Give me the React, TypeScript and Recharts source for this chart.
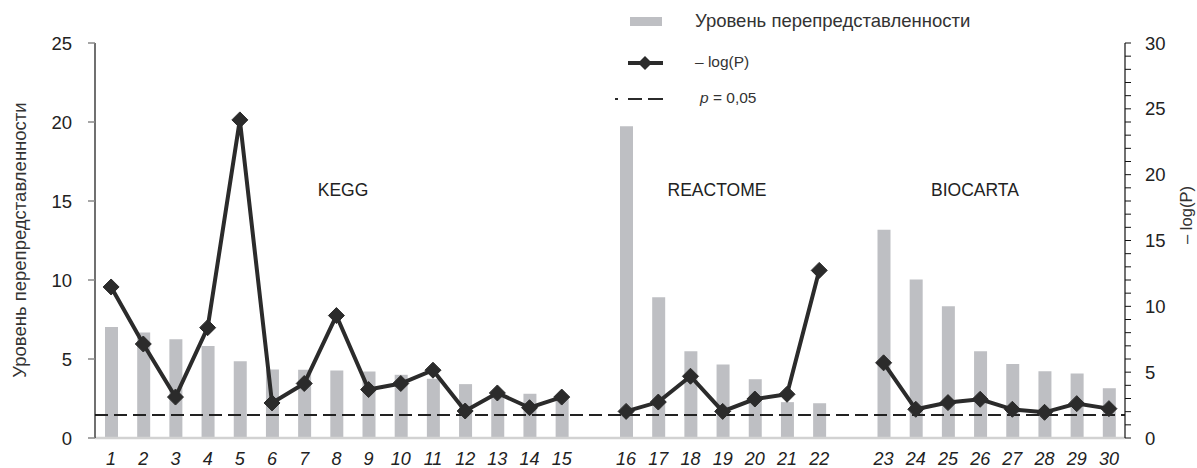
import React from "react";
import {
  Bar,
  ComposedChart,
  Line,
  ReferenceLine,
  XAxis,
  YAxis,
} from "recharts";

// categories 1..30, with two empty slots separating KEGG / REACTOME / BIOCARTA
const categories = [
  "1", "2", "3", "4", "5", "6", "7", "8", "9", "10", "11", "12", "13", "14", "15",
  "",
  "16", "17", "18", "19", "20", "21", "22",
  " ",
  "23", "24", "25", "26", "27", "28", "29", "30",
];

// уровень перепредставленности (left axis)
const enrichment = [
  7.03, 6.68, 6.25, 5.83, 4.86, 4.34, 4.32, 4.27, 4.21, 4.0, 3.75, 3.41, 2.95, 2.8, 2.48,
  null,
  19.73, 8.91, 5.49, 4.65, 3.72, 2.27, 2.2,
  null,
  13.18, 10.03, 8.34, 5.49, 4.69, 4.23, 4.08, 3.15,
];

// -log(P) (right axis)
const negLogP = [
  11.47, 7.14, 3.11, 8.38, 24.16, 2.66, 4.14, 9.3, 3.68, 4.14, 5.15, 2.05, 3.42, 2.3, 3.11,
  null,
  2.02, 2.73, 4.69, 2.02, 2.96, 3.32, 12.73,
  null,
  5.71, 2.18, 2.69, 2.94, 2.18, 1.95, 2.61, 2.23,
];

const leftTicks = [0, 5, 10, 15, 20, 25];
const rightTicks = Array.from({ length: 31 }, (_, i) => i);
const threshold = 1.45; // p = 0,05 line, on left scale

const groups = [
  { name: "KEGG", x: 343, y: 191 },
  { name: "REACTOME", x: 717, y: 191 },
  { name: "BIOCARTA", x: 975, y: 191 },
];

const data = categories.map((c, i) => ({
  cat: c,
  enrichment: enrichment[i],
  negLogP: negLogP[i],
}));

const FONT = "'Liberation Sans', Arial, sans-serif";
const BAR = "#bebfc3";
const INK = "#2b2b2b";

const Diamond = (props: any) => {
  const { cx, cy, value } = props;
  if (value == null || cx == null || cy == null) return null;
  const r = 8;
  return (
    <polygon
      points={`${cx},${cy - r} ${cx + r},${cy} ${cx},${cy + r} ${cx - r},${cy}`}
      fill={INK}
      stroke={INK}
      strokeWidth={1}
    />
  );
};

function Overlay() {
  return (
    <svg
      width={1197}
      height={468}
      style={{ position: "absolute", left: 0, top: 0, pointerEvents: "none" }}
      fontFamily={FONT}
    >
      {/* legend */}
      <rect x={630} y={17} width={32} height={9} fill={BAR} />
      <text x={695} y={22} fontSize={18.5} fill="#333" dominantBaseline="middle">
        Уровень перепредставленности
      </text>
      <line x1={628} y1={63} x2={663} y2={63} stroke={INK} strokeWidth={4} />
      <polygon points="645,56 652,63 645,70 638,63" fill={INK} />
      <text x={695} y={63} fontSize={15.5} fill="#333" dominantBaseline="middle">
        – log(P)
      </text>
      <line
        x1={615}
        y1={99}
        x2={663}
        y2={99}
        stroke={INK}
        strokeWidth={2}
        strokeDasharray="3 10 14 6 15"
      />
      <text x={700} y={99} fontSize={15.5} fill="#333" dominantBaseline="middle">
        <tspan fontStyle="italic">p</tspan> = 0,05
      </text>

      {/* group labels */}
      {groups.map((g) => (
        <text
          key={g.name}
          x={g.x}
          y={g.y}
          fontSize={17.5}
          fill="#222"
          textAnchor="middle"
          dominantBaseline="middle"
        >
          {g.name}
        </text>
      ))}

      {/* axis titles */}
      <text
        x={21}
        y={240}
        fontSize={18.5}
        fill="#333"
        textAnchor="middle"
        dominantBaseline="middle"
        transform="rotate(-90, 21, 240)"
      >
        Уровень перепредставленности
      </text>
      <text
        x={1188}
        y={215}
        fontSize={16.5}
        fill="#333"
        textAnchor="middle"
        dominantBaseline="middle"
        transform="rotate(-90, 1188, 215)"
      >
        – log(P)
      </text>
    </svg>
  );
}

export default function App() {
  return (
    <div
      style={{
        position: "absolute",
        left: 0,
        top: 0,
        width: 1197,
        height: 468,
        background: "#fff",
        fontFamily: FONT,
      }}
    >
      <ComposedChart
        width={1197}
        height={468}
        data={data}
        margin={{ top: 43, right: 22, bottom: 0, left: 35 }}
      >
        <XAxis
          dataKey="cat"
          interval={0}
          height={30}
          tickLine={false}
          tickSize={6}
          tickMargin={8}
          axisLine={{ stroke: "#d2d2d2", strokeWidth: 2.5 }}
          tick={{ fontSize: 18, fontStyle: "italic", fill: "#222", fontFamily: FONT }}
        />
        <YAxis
          yAxisId="left"
          orientation="left"
          width={60}
          domain={[0, 25]}
          ticks={leftTicks}
          tickSize={7}
          tickMargin={16}
          axisLine={{ stroke: "#111", strokeWidth: 1.2 }}
          tickLine={{ stroke: "#888", strokeWidth: 1.5 }}
          tick={{ fontSize: 18.5, fill: "#222", fontFamily: FONT }}
        />
        <YAxis
          yAxisId="right"
          orientation="right"
          width={50}
          domain={[0, 30]}
          ticks={rightTicks}
          interval={0}
          tickSize={6}
          tickMargin={14}
          tickFormatter={(v: number) => (v % 5 === 0 ? String(v) : "")}
          axisLine={{ stroke: "#111", strokeWidth: 1.2 }}
          tickLine={{ stroke: "#111", strokeWidth: 1 }}
          tick={{ fontSize: 18.5, fill: "#222", fontFamily: FONT }}
        />
        <Bar
          yAxisId="left"
          dataKey="enrichment"
          fill={BAR}
          barSize={13}
          isAnimationActive={false}
        />
        <ReferenceLine
          yAxisId="left"
          y={threshold}
          stroke="#222"
          strokeWidth={2}
          strokeDasharray="13 6"
        />
        <Line
          yAxisId="right"
          dataKey="negLogP"
          stroke={INK}
          strokeWidth={4}
          dot={<Diamond />}
          activeDot={false}
          connectNulls={false}
          isAnimationActive={false}
        />
      </ComposedChart>
      <Overlay />
    </div>
  );
}
